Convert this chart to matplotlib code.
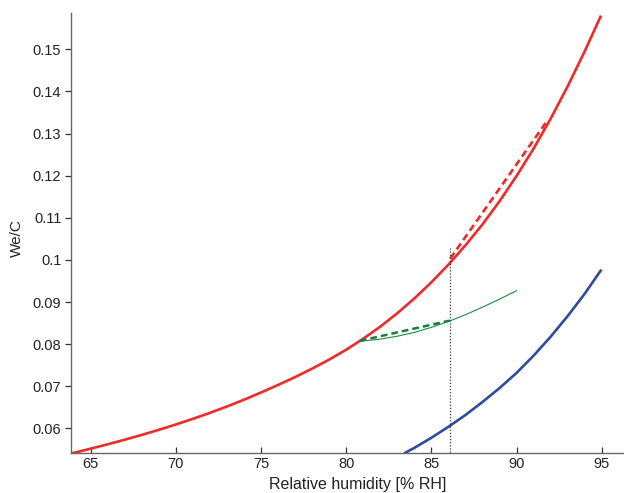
import numpy as np
import matplotlib
matplotlib.use("Agg")
import matplotlib.pyplot as plt

plt.rcParams['font.family'] = ['Liberation Sans', 'DejaVu Sans']

# --- data ------------------------------------------------------------------
# red curve (solid)
rh_red = [63.9, 65, 66, 67, 68, 69, 70, 71, 72, 73, 74, 75, 76, 77, 78, 79, 80,
          81, 82, 83, 84, 85, 86, 87, 88, 89, 90, 91, 92, 93, 94, 94.95]
wc_red = [0.0541, 0.0552, 0.05624, 0.05733, 0.05847, 0.05967, 0.06094,
          0.06228, 0.06370, 0.06521, 0.06682, 0.06854, 0.07032, 0.07220,
          0.07420, 0.07635, 0.07870, 0.08130, 0.08418, 0.08736, 0.09086,
          0.09470, 0.09890, 0.10348, 0.10846, 0.11396, 0.11996, 0.12646,
          0.13356, 0.14126, 0.14956, 0.1580]

# red dashed chord
rh_red_dash = [86.1, 91.7]
wc_red_dash = [0.1003, 0.1325]

# blue curve
rh_blue = [83.4, 84, 85, 86, 87, 88, 89, 90, 91, 92, 93, 94, 94.97]
wc_blue = [0.0541, 0.0554, 0.0578, 0.0604, 0.0632, 0.0663, 0.0696, 0.0732,
           0.0773, 0.0818, 0.0867, 0.0920, 0.0977]

# green curve (thin)
rh_green = [80.8, 81, 82, 83, 84, 85, 86, 87, 88, 89, 90]
wc_green = [0.0807, 0.08077, 0.0812, 0.0819, 0.0828, 0.0840, 0.0854, 0.0870,
            0.0888, 0.0907, 0.0927]

# green dashed chord
rh_green_dash = [80.8, 86.07]
wc_green_dash = [0.0808, 0.0856]

# vertical dotted marker
rh_mark = 86.07
wc_mark_top = 0.1028

xticks = [65, 70, 75, 80, 85, 90, 95]
yticks = [0.06, 0.07, 0.08, 0.09, 0.10, 0.11, 0.12, 0.13, 0.14, 0.15]
ytick_labels = ['0.06', '0.07', '0.08', '0.09', '0.1', '0.11', '0.12',
                '0.13', '0.14', '0.15']

# --- figure -----------------------------------------------------------------
fig = plt.figure(figsize=(6.24, 4.93), dpi=100)
ax = fig.add_axes([0.1138, 0.0805, 0.8862, 0.8931])

red = '#ee2a2a'
blue = '#2f4a9f'
green = '#1e8c3e'

ax.plot(rh_red, wc_red, color=red, lw=1.9, solid_capstyle='butt')
ax.plot(rh_red_dash, wc_red_dash, color=red, lw=1.9, dashes=(2.7, 1.6))
ax.plot(rh_blue, wc_blue, color=blue, lw=1.9, solid_capstyle='butt')
ax.plot(rh_green, wc_green, color=green, lw=0.8)
ax.plot(rh_green_dash, wc_green_dash, color='#1a7d3c', lw=1.8,
        dashes=(2.7, 1.6))
ax.plot([rh_mark, rh_mark], [0.05, wc_mark_top], color='#333333', lw=0.9,
        dashes=(1, 1.5))

ax.set_xlim(63.85, 96.3)
ax.set_ylim(0.0541, 0.1586)

ax.set_xticks(xticks)
ax.set_yticks(yticks)
ax.set_yticklabels(ytick_labels)

for s in ['top', 'right']:
    ax.spines[s].set_visible(False)
for s in ['left', 'bottom']:
    ax.spines[s].set_color('#666666')
    ax.spines[s].set_linewidth(1.0)

ax.tick_params(axis='x', direction='in', length=4, width=0.9, colors='#333333',
               labelsize=10.5, pad=3, labelcolor='#222222')
ax.tick_params(axis='y', direction='out', length=4, width=0.9, colors='#333333',
               labelsize=10.5, pad=3, labelcolor='#222222')

ax.set_xlabel('Relative humidity [% RH]', fontsize=11.5, color='#222222')
ax.xaxis.set_label_coords(0.519, -0.054)
ax.xaxis.label.set_va('top')
ax.set_ylabel('We/C', fontsize=11, color='#222222')
ax.yaxis.set_label_coords(-0.085, 0.49)

fig.savefig('out.png', dpi=100)
